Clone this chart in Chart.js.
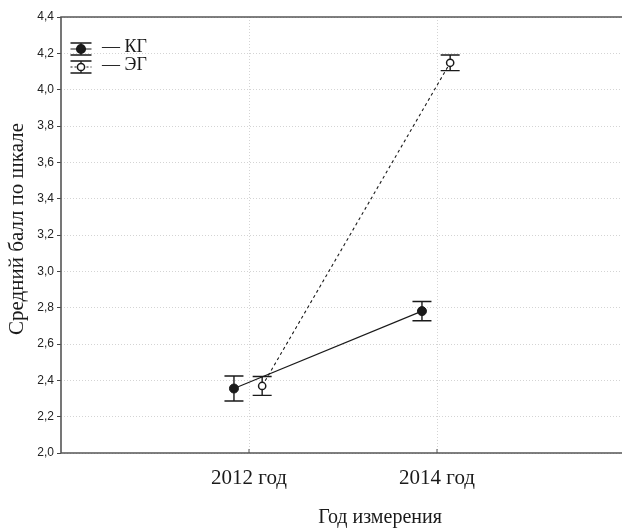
<!DOCTYPE html>
<html><head><meta charset="utf-8">
<script src="https://cdn.jsdelivr.net/npm/chart.js@4.4.1/dist/chart.umd.min.js"></script>
<style>html,body{margin:0;padding:0;background:#fff}canvas{display:block}</style>
</head><body>
<canvas id="c" width="622" height="528"></canvas>
<script>
// ---- data ----
const categories = ['2012 год', '2014 год'];
const seriesNames = ['КГ', 'ЭГ'];
const kgMean = [2.355, 2.781];
const kgErr  = [0.069, 0.053];
const egMean = [2.369, 4.148];
const egErr  = [0.052, 0.043];
const yTickValues = [2.0, 2.2, 2.4, 2.6, 2.8, 3.0, 3.2, 3.4, 3.6, 3.8, 4.0, 4.2, 4.4];
const xTitle = 'Год измерения';
const yTitle = 'Средний балл по шкале';

// horizontal dodge of the two groups around each category (in category units)
const dodge = [-0.08, 0.07];
const INK = '#1a1a1a';
const SERIF = '"Liberation Serif", "Times New Roman", serif';
const SANS = '"Liberation Sans", Arial, sans-serif';

const kgData = categories.map((c, i) => ({x: i + 1 + dodge[0], y: kgMean[i], e: kgErr[i]}));
const egData = categories.map((c, i) => ({x: i + 1 + dodge[1], y: egMean[i], e: egErr[i]}));

const errorBars = {
  id: 'errorBars',
  beforeDatasetsDraw(chart) {
    const {ctx, scales: {x, y}} = chart;
    ctx.save();
    ctx.strokeStyle = INK;
    ctx.lineWidth = 1.4;
    chart.data.datasets.forEach(ds => {
      ds.data.forEach(p => {
        const px = x.getPixelForValue(p.x);
        const top = y.getPixelForValue(p.y + p.e);
        const bot = y.getPixelForValue(p.y - p.e);
        const hw = 9.5;
        ctx.beginPath();
        ctx.moveTo(px, top); ctx.lineTo(px, bot);
        ctx.moveTo(px - hw, top); ctx.lineTo(px + hw, top);
        ctx.moveTo(px - hw, bot); ctx.lineTo(px + hw, bot);
        ctx.stroke();
      });
    });
    ctx.restore();
  }
};

const frame = {
  id: 'frame',
  afterDraw(chart) {
    const {ctx, chartArea: a, scales: {x}} = chart;
    ctx.save();
    ctx.strokeStyle = '#555';
    ctx.lineWidth = 1.6;
    ctx.beginPath();
    ctx.moveTo(a.right, a.top); ctx.lineTo(a.left, a.top);
    ctx.lineTo(a.left, a.bottom); ctx.lineTo(a.right, a.bottom);
    ctx.stroke();
    ctx.lineWidth = 1;
    x.ticks.forEach(t => {
      const px = x.getPixelForValue(t.value);
      ctx.beginPath(); ctx.moveTo(px, a.bottom); ctx.lineTo(px, a.bottom - 4); ctx.stroke();
    });
    // titles
    ctx.fillStyle = INK;
    ctx.font = '20px ' + SERIF;
    ctx.textAlign = 'center';
    ctx.textBaseline = 'alphabetic';
    ctx.fillText(xTitle, 380, 523);
    ctx.save();
    ctx.translate(23, 229);
    ctx.rotate(-Math.PI / 2);
    ctx.font = '21px ' + SERIF;
    ctx.fillText(yTitle, 0, 0);
    ctx.restore();
    // legend
    const rows = [49, 67];
    rows.forEach((ry, i) => {
      const cx = 81;
      ctx.strokeStyle = INK;
      ctx.lineWidth = 1.3;
      ctx.beginPath();
      ctx.moveTo(cx - 10.5, ry - 6); ctx.lineTo(cx + 10.5, ry - 6);
      ctx.moveTo(cx - 10.5, ry + 6); ctx.lineTo(cx + 10.5, ry + 6);
      ctx.moveTo(cx, ry - 6); ctx.lineTo(cx, ry + 6);
      ctx.stroke();
      ctx.lineWidth = 1;
      ctx.setLineDash(i === 0 ? [] : [2, 2]);
      ctx.beginPath(); ctx.moveTo(cx - 10.5, ry); ctx.lineTo(cx + 10.5, ry); ctx.stroke();
      ctx.setLineDash([]);
      ctx.beginPath(); ctx.arc(cx, ry, i === 0 ? 4.3 : 3.6, 0, Math.PI * 2);
      ctx.fillStyle = i === 0 ? INK : '#fff';
      ctx.fill();
      ctx.lineWidth = 1.5;
      ctx.stroke();
      ctx.fillStyle = INK;
      ctx.font = '18px ' + SERIF;
      ctx.textAlign = 'left';
      ctx.fillText('\u2014 ' + seriesNames[i], 102, ry + 3);
    });
    ctx.restore();
  }
};

new Chart(document.getElementById('c'), {
  type: 'scatter',
  data: {
    datasets: [
      {label: seriesNames[0], data: kgData, showLine: true, borderColor: INK, borderWidth: 1.1,
       pointRadius: 4.5, pointBackgroundColor: INK, pointBorderColor: INK, pointBorderWidth: 1},
      {label: seriesNames[1], data: egData, showLine: true, borderColor: INK, borderWidth: 1.1,
       borderDash: [3, 3], pointRadius: 3.6, pointBackgroundColor: '#fff', pointBorderColor: INK,
       pointBorderWidth: 1.5}
    ]
  },
  options: {
    responsive: false,
    animation: false,
    devicePixelRatio: 1,
    layout: {autoPadding: false, padding: {top: 17, right: 0, left: 0, bottom: 0}},
    plugins: {legend: {display: false}, tooltip: {enabled: false}},
    scales: {
      x: {
        type: 'linear', min: 0, max: 2.984,
        afterBuildTicks: s => { s.ticks = categories.map((c, i) => ({value: i + 1})); },
        afterFit: s => { s.height = 75; s.paddingLeft = 0; s.paddingRight = 0; },
        ticks: {callback: v => categories[v - 1], font: {family: SERIF, size: 21}, color: INK, padding: 13, maxRotation: 0},
        grid: {color: '#d4d4d4', drawTicks: false},
        border: {display: false, dash: [1, 2]}
      },
      y: {
        min: 2.0, max: 4.4,
        afterBuildTicks: s => { s.ticks = yTickValues.map(v => ({value: v})); },
        afterFit: s => { s.width = 61; s.paddingTop = 0; s.paddingBottom = 0; },
        ticks: {callback: v => v.toFixed(1).replace('.', ','), font: {family: SANS, size: 12}, color: '#222', padding: 3},
        grid: {color: '#d4d4d4', tickColor: '#444', tickLength: 4, tickBorderDash: []},
        border: {display: false, dash: [1, 2]}
      }
    }
  },
  plugins: [errorBars, frame]
});
</script>
</body></html>
